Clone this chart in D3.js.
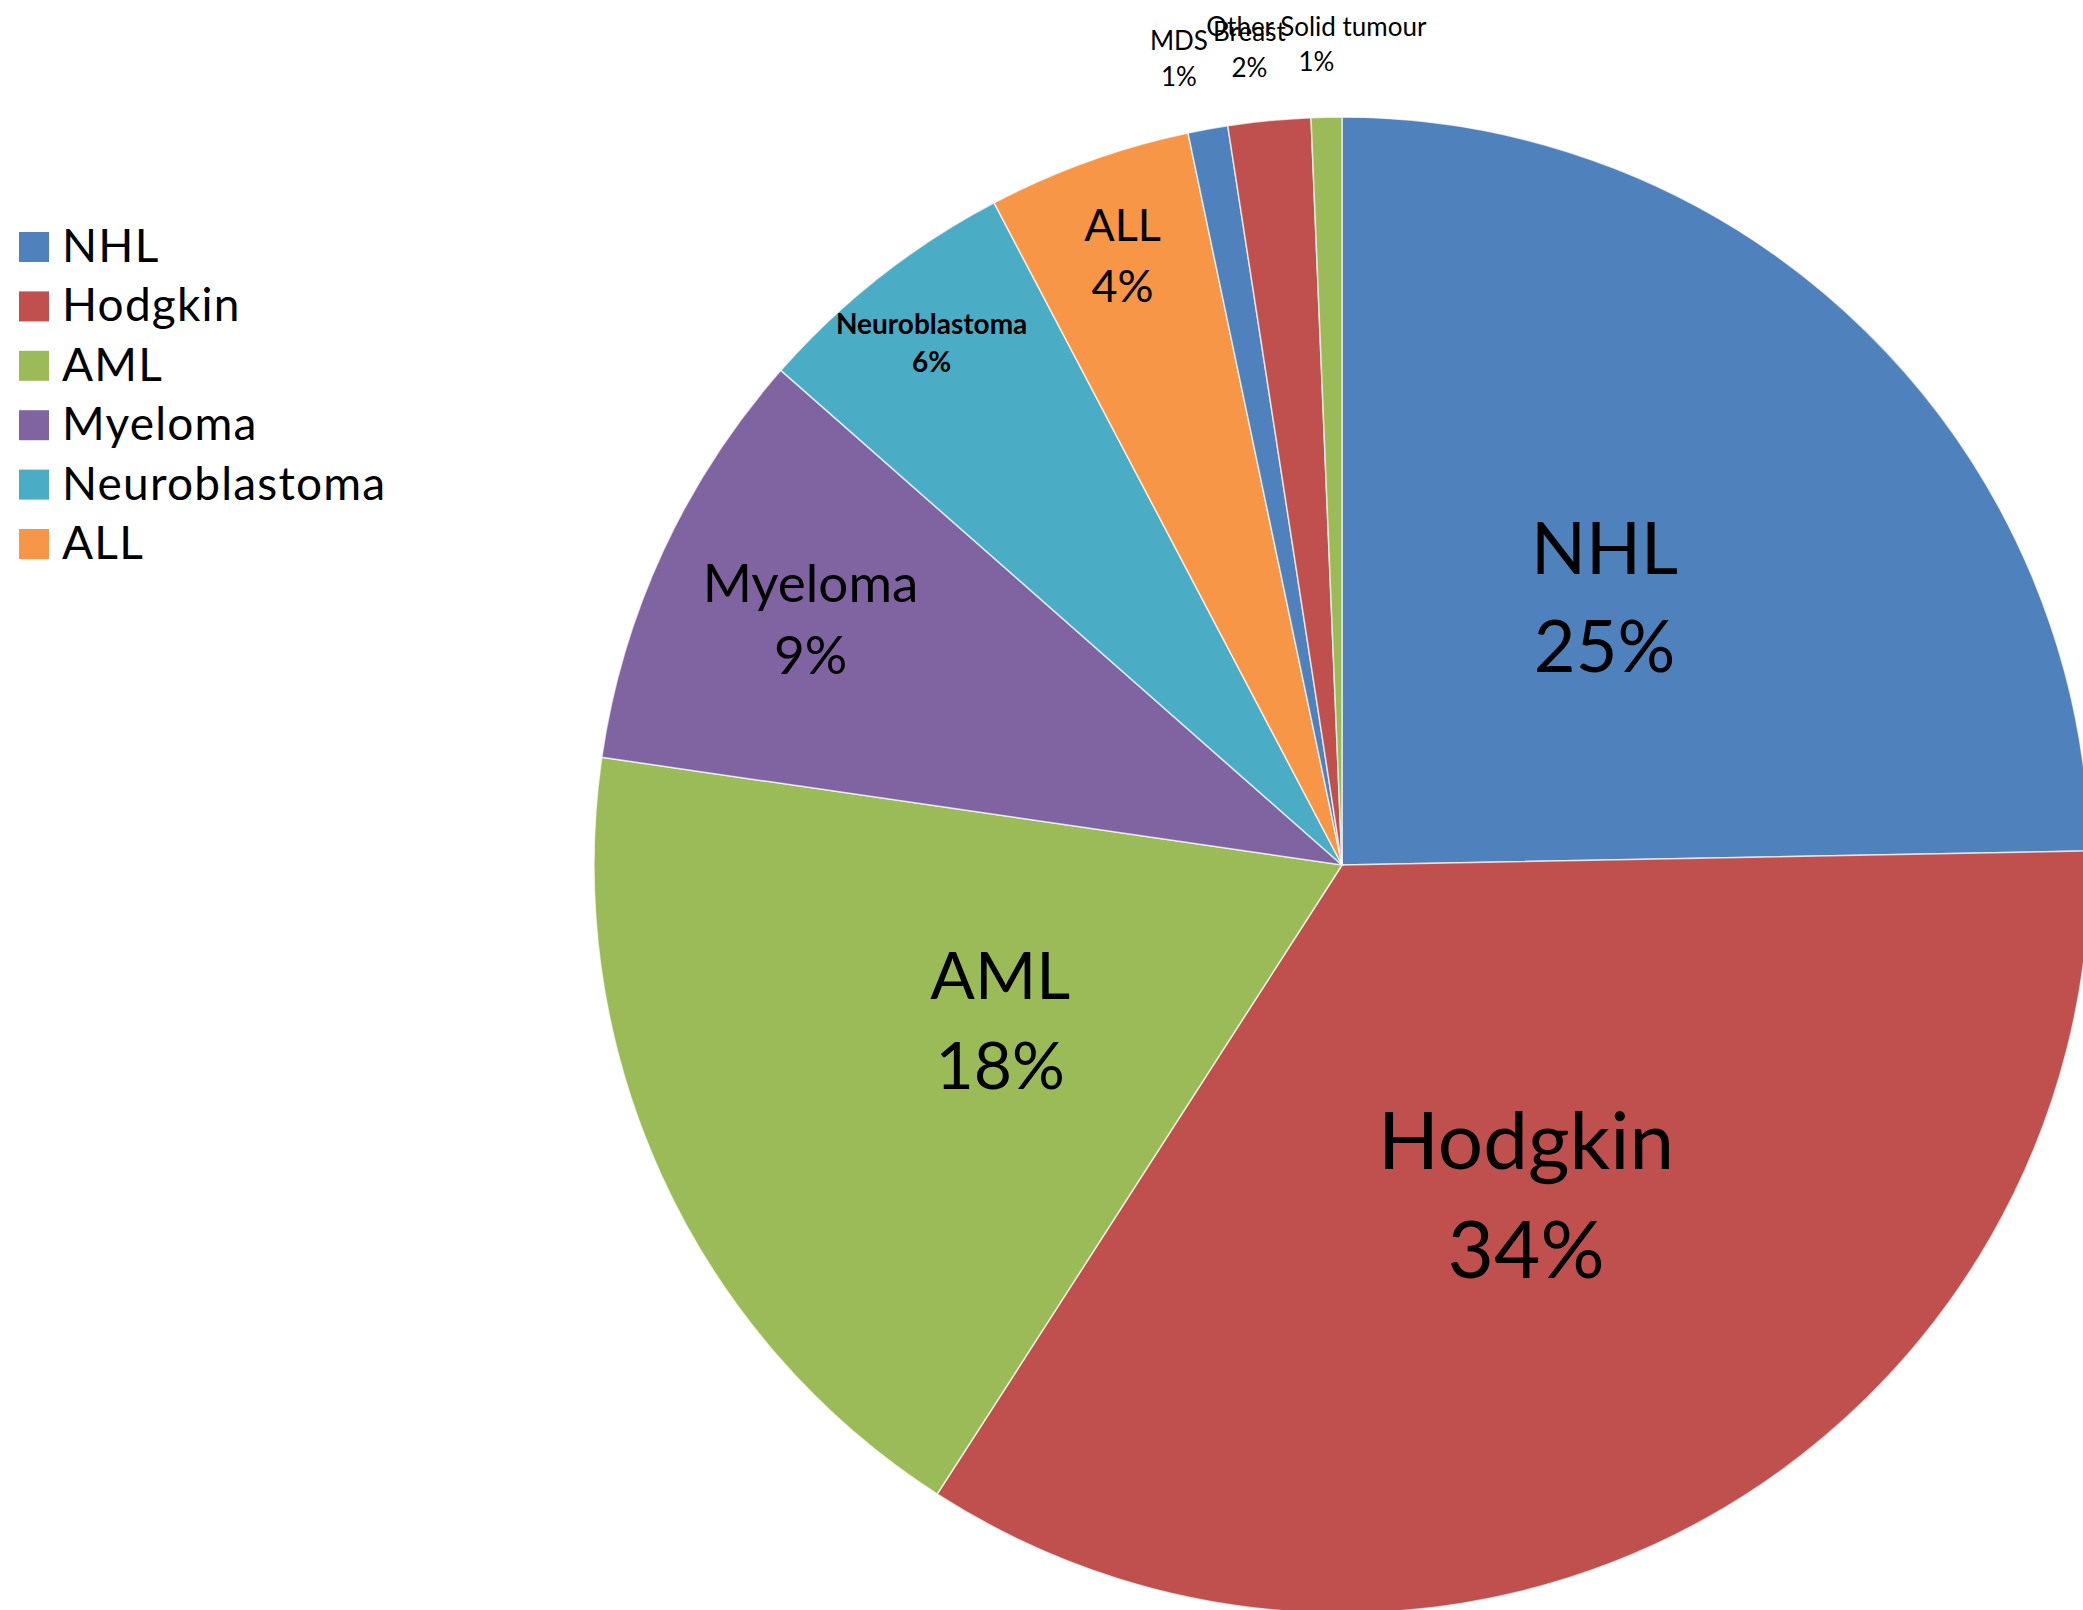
<!DOCTYPE html>
<html>
<head>
<meta charset="utf-8">
<script src="https://cdn.jsdelivr.net/npm/d3@7"></script>
<style>
    body { margin: 0; background: #fff; }
    svg { display: block; overflow: hidden; }
</style>
</head>
<body>
<div id="chart"></div>
<script>
const categories = ['NHL', 'Hodgkin', 'AML', 'Myeloma', 'Neuroblastoma', 'ALL', 'MDS', 'Breast', 'Other Solid tumour'];
const values = [24.7, 34.4, 18.2, 9.2, 5.8, 4.4, 0.86, 1.78, 0.66];
const sliceColors = ['#4f81bd', '#c0504d', '#9bbb59', '#8064a2', '#4bacc6', '#f79646', '#4f81bd', '#c0504d', '#9bbb59'];
const legendItems = ['NHL', 'Hodgkin', 'AML', 'Myeloma', 'Neuroblastoma', 'ALL'];

// label placement (fraction of radius along mid angle, angle shift in degrees) and font size, per slice
const labelStyle = {
    'NHL': { r: 0.501, da: 0, size: 72 },
    'Hodgkin': { r: 0.505, da: 0, size: 80 },
    'AML': { r: 0.502, da: 0, size: 66 },
    'Myeloma': { r: 0.783, da: 0, size: 53 },
    'Neuroblastoma': { r: 0.888, da: 0, size: 28, bold: true },
    'ALL': { r: 0.866, da: 0, size: 45 },
    'MDS': { r: 1.10, da: -1.1, size: 26 },
    'Breast': { r: 1.097, da: -0.9, size: 26 },
    'Other Solid tumour': { r: 1.098, da: -0.6, size: 26 }
};

const width = 2083;
const height = 1610;
const cx = 1342;
const cy = 865;
const radius = 748;
const font = 'Lato, Calibri, sans-serif';

const data = categories.map((name, i) => ({ name, value: values[i] }));
const total = d3.sum(values);
const pct = d3.format('.0%');

const color = d3.scaleOrdinal()
    .domain(categories)
    .range(sliceColors);

const svg = d3.select('#chart')
    .append('svg')
    .attr('width', width)
    .attr('height', height);

const g = svg.append('g')
    .attr('transform', `translate(${cx}, ${cy})`);

const pie = d3.pie()
    .value(d => d.value)
    .sort(null);

const arc = d3.arc()
    .innerRadius(0)
    .outerRadius(radius);

const arcs = pie(data);

g.selectAll('path')
    .data(arcs)
    .enter()
    .append('path')
    .attr('d', arc)
    .attr('fill', d => color(d.data.name))
    .attr('stroke', '#ffffff')
    .attr('stroke-opacity', 0.7)
    .attr('stroke-width', 1.5);

// data labels: name on first line, percent on second
const labels = g.selectAll('.label')
    .data(arcs)
    .enter()
    .append('text')
    .attr('class', 'label')
    .attr('transform', d => {
        const st = labelStyle[d.data.name];
        const a = (d.startAngle + d.endAngle) / 2 + st.da * Math.PI / 180;
        const r = radius * st.r;
        return `translate(${Math.sin(a) * r}, ${-Math.cos(a) * r})`;
    })
    .attr('text-anchor', 'middle')
    .style('font-family', font)
    .style('font-size', d => labelStyle[d.data.name].size + 'px')
    .style('font-weight', d => labelStyle[d.data.name].bold ? 'bold' : 'normal')
    .style('fill', '#000');

labels.append('tspan')
    .attr('x', 0)
    .attr('dy', '-0.32em')
    .text(d => d.data.name);

labels.append('tspan')
    .attr('x', 0)
    .attr('dy', '1.36em')
    .text(d => pct(d.data.value / total));

// legend
const legend = svg.append('g')
    .attr('transform', 'translate(19, 232)');

const rows = legend.selectAll('g')
    .data(legendItems)
    .enter()
    .append('g')
    .attr('transform', (d, i) => `translate(0, ${i * 59.4})`);

rows.append('rect')
    .attr('width', 30)
    .attr('height', 30)
    .attr('fill', d => color(d));

rows.append('text')
    .attr('x', 43)
    .attr('y', 30)
    .style('font-family', font)
    .style('font-size', '46px')
    .style('letter-spacing', '1.2px')
    .style('fill', '#000')
    .text(d => d);
</script>
</body>
</html>
